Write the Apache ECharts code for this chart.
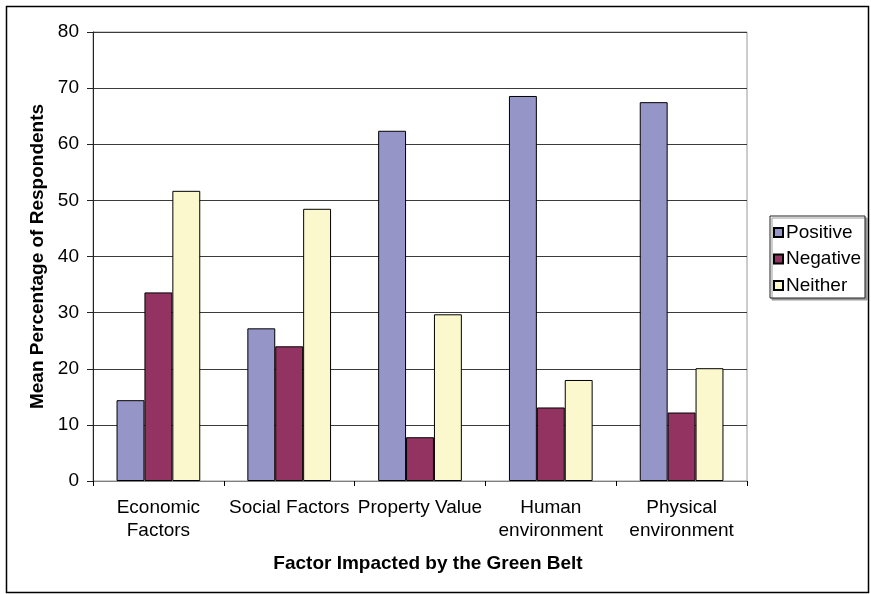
<!DOCTYPE html>
<html>
<head>
<meta charset="utf-8">
<title>Factor Impacted by the Green Belt</title>
<script src="https://cdn.jsdelivr.net/npm/echarts@6/dist/echarts.min.js"></script>
<style>
  html, body { margin: 0; padding: 0; background: #fff; }
  #chart { width: 871px; height: 594px; }
</style>
</head>
<body>
<div id="chart"></div>
<script>
// Survey results: mean percentage of respondents per impact direction
var categories = ['Economic\nFactors', 'Social Factors', 'Property Value', 'Human\nenvironment', 'Physical\nenvironment'];
var seriesNames = ['Positive', 'Negative', 'Neither'];
var positive = [14.4, 27.2, 62.4, 68.6, 67.5];
var negative = [33.6, 24.0, 7.8, 13.1, 12.2];
var neither = [51.7, 48.5, 29.7, 18.0, 20.1];
var yTicks = { min: 0, max: 80, interval: 10 };

var FONT = "'Liberation Sans', Arial, sans-serif";
var colors = ['#9595c8', '#933361', '#faf8cc'];

function barSeries(name, data, color) {
  return {
    name: name,
    type: 'bar',
    data: data,
    barGap: '0%',
    barCategoryGap: '36%',
    itemStyle: { color: color, borderColor: '#000', borderWidth: 1 },
    emphasis: { disabled: true }
  };
}

var chart = echarts.init(document.getElementById('chart'), null, { renderer: 'canvas' });
chart.setOption({
  animation: false,
  backgroundColor: '#fff',
  textStyle: { fontFamily: FONT, color: '#000' },
  title: {
    text: 'Factor Impacted by the Green Belt',
    left: 428,
    top: 554,
    textAlign: 'center',
    padding: 0,
    textStyle: { fontFamily: FONT, fontSize: 19, fontWeight: 'bold', color: '#000' }
  },
  grid: {
    left: 93, top: 32, right: 124, bottom: 113,
    show: true,
    borderColor: '#9a9a9a',
    borderWidth: 1,
    backgroundColor: '#fff'
  },
  legend: {
    data: seriesNames,
    orient: 'vertical',
    left: 770,
    top: 216,
    padding: [7, 4, 3, 3],
    itemWidth: 9,
    itemHeight: 9,
    itemGap: 7.5,
    icon: 'rect',
    backgroundColor: '#fff',
    borderColor: '#222',
    borderWidth: 1,
    shadowColor: '#9a9a9a',
    shadowOffsetX: 2,
    shadowOffsetY: 2,
    shadowBlur: 0,
    selectedMode: false,
    textStyle: { fontFamily: FONT, fontSize: 19, color: '#000', padding: [0, 0, 0, -2] }
  },
  xAxis: {
    type: 'category',
    data: categories,
    axisLine: { show: true, lineStyle: { color: '#808080', width: 1 } },
    axisTick: { show: true, length: 5, alignWithLabel: false, lineStyle: { color: '#000' } },
    axisLabel: { margin: 16, fontFamily: FONT, fontSize: 19, color: '#000', lineHeight: 22.5, interval: 0 },
    splitLine: { show: false }
  },
  yAxis: {
    type: 'value',
    min: yTicks.min,
    max: yTicks.max,
    interval: yTicks.interval,
    name: 'Mean Percentage of Respondents',
    nameLocation: 'middle',
    nameRotate: 90,
    nameGap: 46,
    nameTextStyle: { fontFamily: FONT, fontSize: 19, fontWeight: 'bold', color: '#000' },
    axisLine: { show: true, lineStyle: { color: '#222', width: 1 } },
    axisTick: { show: true, length: 6, inside: false, lineStyle: { color: '#222' } },
    axisLabel: { margin: 14, fontFamily: FONT, fontSize: 19, color: '#000' },
    splitLine: { show: true, lineStyle: { color: '#3a3a3a', width: 1 } }
  },
  series: [
    barSeries(seriesNames[0], positive, colors[0]),
    barSeries(seriesNames[1], negative, colors[1]),
    barSeries(seriesNames[2], neither, colors[2])
  ],
  graphic: [{
    type: 'rect',
    silent: true,
    z: 100,
    shape: { x: 6.5, y: 6.5, width: 862, height: 586 },
    style: { fill: null, stroke: '#000', lineWidth: 1.5 }
  }]
});
</script>
</body>
</html>
